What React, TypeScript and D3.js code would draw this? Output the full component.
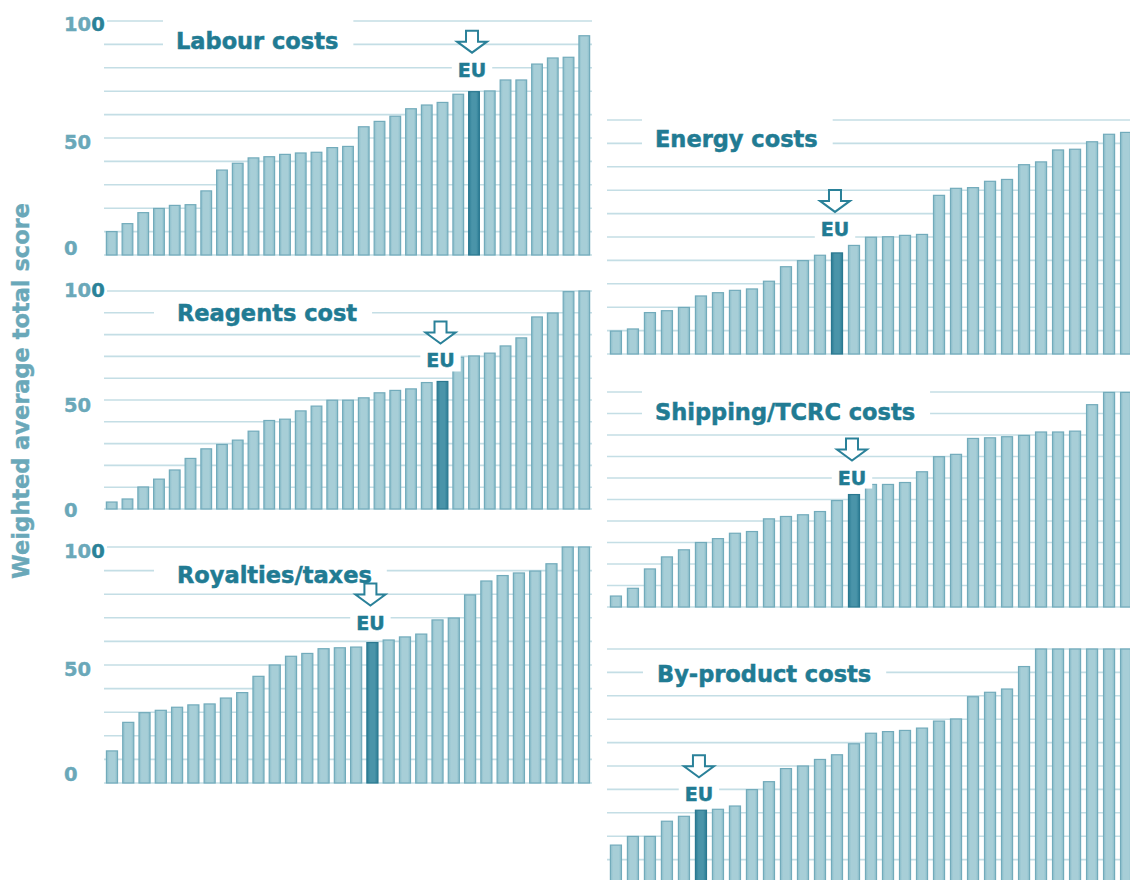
import React from "react";
import * as d3 from "d3";

// ---------- DATA ----------
const yAxisTitle = "Weighted average total score";
const yTickValues = [0, 50, 100];

const panelTitles = [
  "Labour costs",
  "Reagents cost",
  "Royalties/taxes",
  "Energy costs",
  "Shipping/TCRC costs",
  "By-product costs",
];

const labourValues = [
  10.0, 13.4, 18.1, 19.9, 21.2, 21.5, 27.4, 36.3, 39.2, 41.5, 42.0, 43.0, 43.6, 43.9, 45.9, 46.4,
  54.8, 57.1, 59.3, 62.5, 64.1, 65.2, 68.7, 69.8, 70.1, 74.8, 74.8, 81.6, 84.2, 84.5, 93.7,
];
const reagentsValues = [
  3.2, 4.6, 10.1, 13.7, 17.9, 23.2, 27.6, 29.6, 31.6, 35.7, 40.6, 41.2, 45.0, 47.2, 49.9, 49.9,
  51.0, 53.3, 54.4, 55.1, 58.0, 58.5, 69.6, 70.2, 71.5, 74.8, 78.5, 88.1, 89.9, 99.7, 100,
];
const royaltiesValues = [
  13.6, 25.7, 29.8, 30.8, 32.1, 33.1, 33.5, 36.0, 38.3, 45.2, 50.0, 53.7, 54.9, 56.9, 57.3,
  57.6, 59.5, 60.6, 61.9, 63.1, 69.1, 69.9, 79.7, 85.6, 87.9, 89.0, 89.8, 92.9, 100, 100,
];
const energyValues = [
  9.8, 10.7, 17.7, 18.5, 19.9, 24.8, 26.2, 27.2, 27.8, 31.1, 37.3, 39.9, 42.2, 43.2, 46.4, 49.9,
  50.1, 50.7, 51.1, 67.8, 70.8, 71.1, 73.8, 74.6, 80.9, 82.1, 87.2, 87.5, 90.7, 93.9, 94.7,
];
const shippingValues = [
  5.1, 8.7, 17.7, 23.3, 26.6, 30.0, 31.8, 34.3, 35.1, 41.0, 42.1, 42.9, 44.4, 49.5, 52.3, 57.0,
  57.0, 57.9, 62.9, 69.9, 71.0, 78.4, 78.7, 79.2, 79.8, 81.4, 81.4, 81.8, 94.1, 99.8, 99.8,
];
const byproductValues = [
  16.2, 19.9, 19.9, 26.4, 28.5, 31.1, 31.5, 32.9, 39.9, 43.3, 48.9, 50.0, 52.8, 54.8, 59.5, 64.0,
  64.7, 65.2, 66.2, 69.2, 70.1, 79.6, 81.5, 82.9, 92.5, 100, 100, 100, 100, 100, 100,
];
const euIndices = [23, 21, 16, 13, 14, 5];
const euLabel = "EU";

// ---------- STYLE / LAYOUT ----------
const FONT = "'DejaVu Sans', Verdana, sans-serif";
const TITLE_COLOR = "#217b93";
const TICK_COLOR = "#6aa8b9";
const TICK_DARK = "#2a8298";
const GRID_COLOR = "#c4dee5";

type Layout = {
  x0: number;
  x1: number;
  pi: number;
  po: number;
  yTop: number;
  yBase: number;
  titleX: number;
  titleY: number;
  padL: number;
  coverTop: boolean;
  euOff: number;
  ticks: boolean;
  tickShift?: number[];
};

const layouts: Layout[] = [
  { x0: 104, x1: 592, pi: 0.32, po: 0.15, yTop: 21, yBase: 255, titleX: 176, titleY: 41, padL: 13, coverTop: true, euOff: 22, ticks: true, tickShift: [-7, 4, 3] },
  { x0: 104, x1: 592, pi: 0.32, po: 0.15, yTop: 291, yBase: 509, titleX: 177, titleY: 313, padL: 23, coverTop: false, euOff: 21, ticks: true, tickShift: [1, 5, -1] },
  { x0: 104, x1: 592, pi: 0.32, po: 0.15, yTop: 547, yBase: 783, titleX: 177, titleY: 575, padL: 23, coverTop: false, euOff: 20, ticks: true, tickShift: [-9, 4, 4] },
  { x0: 607, x1: 1135, pi: 0.35, po: 0.2, yTop: 120, yBase: 354, titleX: 655, titleY: 139, padL: 13, coverTop: true, euOff: 24, ticks: false },
  { x0: 607, x1: 1135, pi: 0.35, po: 0.2, yTop: 392, yBase: 607, titleX: 655, titleY: 412, padL: 13, coverTop: true, euOff: 17, ticks: false },
  { x0: 607, x1: 1135, pi: 0.35, po: 0.2, yTop: 649, yBase: 883, titleX: 657, titleY: 674, padL: 14, coverTop: false, euOff: 16, ticks: false },
];

const seriesList = [labourValues, reagentsValues, royaltiesValues, energyValues, shippingValues, byproductValues];

const TITLE_SIZE = 22.5;
const EU_SIZE = 19;
const TICK_SIZE = 19.5;

function measure(text: string, size: number): number {
  if (typeof document === "undefined") return text.length * size * 0.6;
  const c = document.createElement("canvas");
  const ctx = c.getContext("2d");
  if (!ctx) return text.length * size * 0.6;
  ctx.font = `bold ${size}px ${FONT}`;
  return ctx.measureText(text).width;
}

function Panel({ idx }: { idx: number }) {
  const L = layouts[idx];
  const values = seriesList[idx];
  const eu = euIndices[idx];
  const title = panelTitles[idx];

  const x = d3
    .scaleBand<number>()
    .domain(values.map((_, i) => i))
    .range([L.x0, L.x1])
    .paddingInner(L.pi)
    .paddingOuter(L.po);
  const y = d3.scaleLinear().domain([0, 100]).range([L.yBase, L.yTop]);
  const grid = y.ticks(10);
  const gridEnd = L.x0 < 600 ? 592 : 1135;

  const tw = measure(title, TITLE_SIZE);
  const boxTop = L.coverTop ? L.yTop - 5 : L.yTop + 4;
  const boxBottom = L.titleY + 14;

  const euCx = (x(eu) as number) + x.bandwidth() / 2 - 2;
  const euCy = y(values[eu]) - L.euOff;
  const euW = measure(euLabel, EU_SIZE) + 12;
  const tipY = euCy - 17;
  const topY = tipY - 22;
  const arrow = d3.path();
  arrow.moveTo(euCx - 6, topY);
  arrow.lineTo(euCx + 6, topY);
  arrow.lineTo(euCx + 6, topY + 11);
  arrow.lineTo(euCx + 15, topY + 11);
  arrow.lineTo(euCx, tipY);
  arrow.lineTo(euCx - 15, topY + 11);
  arrow.lineTo(euCx - 6, topY + 11);
  arrow.closePath();

  return (
    <g>
      {grid.map((g) => (
        <line
          key={g}
          x1={L.ticks && g === 100 ? L.x0 + 3 : L.x0}
          x2={gridEnd}
          y1={y(g)}
          y2={y(g)}
          stroke={GRID_COLOR}
          strokeWidth={1.6}
        />
      ))}
      {L.ticks &&
        yTickValues.map((t, k) => {
          const s = String(t);
          const dy = (L.tickShift as number[])[k];
          return (
            <text
              key={t}
              x={64}
              y={y(t) + dy}
              dominantBaseline="central"
              fontFamily={FONT}
              fontWeight="bold"
              fontSize={TICK_SIZE}
              fill={TICK_COLOR}
              stroke={TICK_COLOR}
              strokeWidth={0.4}
            >
              {s.length > 2 ? (
                <>
                  <tspan>{s.slice(0, s.length - 1)}</tspan>
                  <tspan fill={TICK_DARK} stroke={TICK_DARK}>{s.slice(s.length - 1)}</tspan>
                </>
              ) : (
                s
              )}
            </text>
          );
        })}
      <rect x={L.titleX - L.padL} y={boxTop} width={tw + L.padL + 15} height={boxBottom - boxTop} fill="#fff" />
      <text
        x={L.titleX}
        y={L.titleY}
        dominantBaseline="central"
        fontFamily={FONT}
        fontWeight="bold"
        fontSize={TITLE_SIZE}
        fill={TITLE_COLOR}
        stroke={TITLE_COLOR}
        strokeWidth={0.5}
      >
        {title}
      </text>
      {values.map((v, i) => {
        const isEU = i === eu;
        return (
          <rect
            key={i}
            x={x(i) as number}
            y={y(v)}
            width={x.bandwidth()}
            height={L.yBase - y(v)}
            fill={isEU ? "url(#barEU)" : "url(#barNormal)"}
            stroke={isEU ? "#2a7890" : "#72abbb"}
            strokeWidth={1.2}
          />
        );
      })}
      <rect x={euCx - euW / 2} y={euCy - 11} width={euW} height={22} fill="#fff" />
      <text
        x={euCx}
        y={euCy}
        textAnchor="middle"
        dominantBaseline="central"
        fontFamily={FONT}
        fontWeight="bold"
        fontSize={EU_SIZE}
        fill={TITLE_COLOR}
        stroke={TITLE_COLOR}
        strokeWidth={0.5}
      >
        {euLabel}
      </text>
      <path d={arrow.toString()} fill="#fff" stroke="#2a8199" strokeWidth={2} strokeLinejoin="miter" />
    </g>
  );
}

export default function App() {
  return (
    <svg
      width={1130}
      height={880}
      style={{ position: "absolute", left: 0, top: 0, background: "#fff" }}
    >
      <defs>
        <linearGradient id="barNormal" x1="0" x2="1" y1="0" y2="0">
          <stop offset="0%" stopColor="#8abdca" />
          <stop offset="25%" stopColor="#a7ced7" />
          <stop offset="75%" stopColor="#a7ced7" />
          <stop offset="100%" stopColor="#8abdca" />
        </linearGradient>
        <linearGradient id="barEU" x1="0" x2="1" y1="0" y2="0">
          <stop offset="0%" stopColor="#2c7d95" />
          <stop offset="30%" stopColor="#4a94a9" />
          <stop offset="70%" stopColor="#4a94a9" />
          <stop offset="100%" stopColor="#2c7d95" />
        </linearGradient>
      </defs>
      <rect x={0} y={0} width={1130} height={880} fill="#fff" />
      {layouts.map((_, i) => (
        <Panel key={i} idx={i} />
      ))}
      <text
        transform="translate(29,391) rotate(-90)"
        textAnchor="middle"
        fontFamily={FONT}
        fontWeight="bold"
        fontSize={TITLE_SIZE}
        fill={TICK_COLOR}
        stroke={TICK_COLOR}
        strokeWidth={0.4}
      >
        {yAxisTitle}
      </text>
    </svg>
  );
}
